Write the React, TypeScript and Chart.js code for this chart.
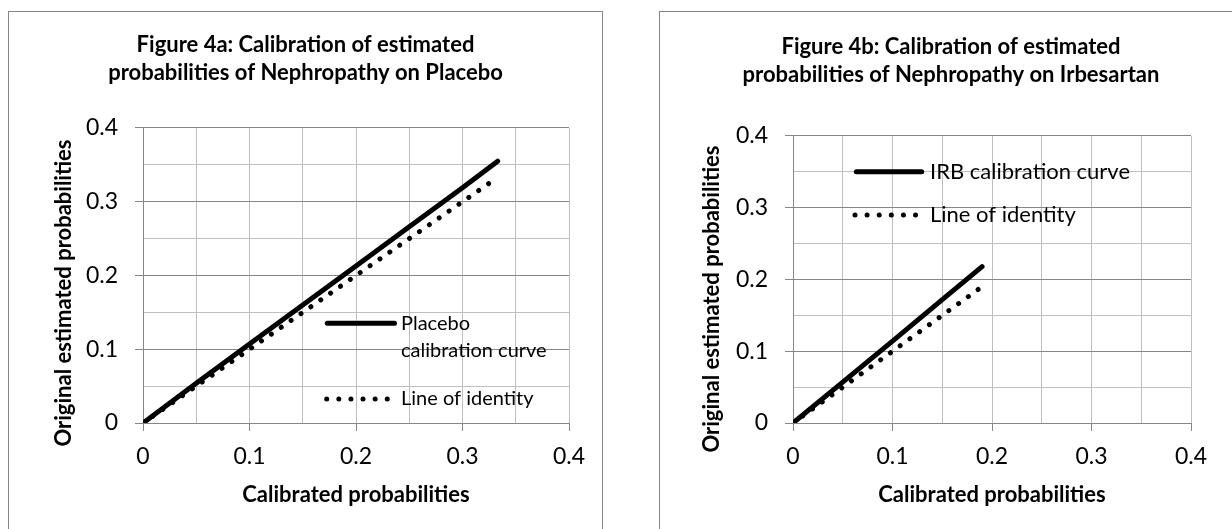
import React, { useEffect, useRef } from "react";
import { Chart, registerables } from "chart.js";

Chart.register(...registerables);

const FONT = "Lato, 'DejaVu Sans', sans-serif";

// ---------- Figure 4a (Placebo) ----------
const placeboX = [0, 0.05, 0.1, 0.15, 0.2, 0.25, 0.3, 0.333];
const placeboY = [0, 0.054, 0.107, 0.16, 0.213, 0.266, 0.319, 0.355];
const identityAX = [0, 0.05, 0.1, 0.15, 0.2, 0.25, 0.3, 0.329];
const identityAY = [0, 0.05, 0.1, 0.15, 0.2, 0.25, 0.3, 0.329];

// ---------- Figure 4b (Irbesartan) ----------
const irbX = [0, 0.05, 0.1, 0.15, 0.19];
const irbY = [0, 0.057, 0.114, 0.172, 0.218];
const identityBX = [0, 0.05, 0.1, 0.15, 0.187];
const identityBY = [0, 0.05, 0.1, 0.15, 0.187];

// ---------- axes / text ----------
const axisTickValues = [0, 0.1, 0.2, 0.3, 0.4];
const axisTickLabels = ["0", "0.1", "0.2", "0.3", "0.4"];
const titleA = ["Figure 4a: Calibration of estimated", "probabilities of Nephropathy on Placebo"];
const titleB = ["Figure 4b: Calibration of estimated", "probabilities of Nephropathy on Irbesartan"];
const xTitle = "Calibrated probabilities";
const yTitle = "Original estimated probabilities";
const legendA = [["Placebo", "calibration curve"], ["Line of identity"]];
const legendB = [["IRB calibration curve"], ["Line of identity"]];

const MAJOR = "#868686";
const MINOR = "#bfbfbf";

function isMajor(v: number) {
  return Math.abs(v * 10 - Math.round(v * 10)) < 1e-6;
}
function tickLabel(v: number) {
  const i = axisTickValues.findIndex((t) => Math.abs(t - v) < 1e-6);
  return i >= 0 ? axisTickLabels[i] : "";
}
function pts(xs: number[], ys: number[]) {
  return xs.map((x, i) => ({ x, y: ys[i] }));
}

type PanelCfg = {
  canvasW: number;
  canvasH: number;
  pad: number;
  yScaleW: number;
  xScaleH: number;
  titlePadTop: number;
  titlePadBottom: number;
  yTitleX: number;
  yTitleY: number;
  legendSize: number;
  legendTextX: number;
  legendGap: number;
  legendItems: { x0: number; x1: number; y: number; dotted: boolean }[];
};

function yTitlePlugin(cfg: PanelCfg) {
  return {
    id: "yTitleCustom",
    afterDraw(chart: any) {
      const ctx = chart.ctx;
      ctx.save();
      ctx.translate(cfg.yTitleX, cfg.yTitleY);
      ctx.rotate(-Math.PI / 2);
      ctx.font = `bold 22px ${FONT}`;
      ctx.fillStyle = "#000";
      ctx.textAlign = "center";
      ctx.textBaseline = "middle";
      ctx.fillText(yTitle, 0, 0);
      ctx.restore();
    },
  };
}

function legendPlugin(cfg: PanelCfg, texts: string[][]) {
  return {
    id: "calLegend",
    afterDraw(chart: any) {
      const ctx = chart.ctx;
      ctx.save();
      ctx.strokeStyle = "#000";
      ctx.fillStyle = "#000";
      cfg.legendItems.forEach((it, idx) => {
        ctx.beginPath();
        ctx.lineCap = "round";
        ctx.lineWidth = it.dotted ? 5 : 5;
        ctx.setLineDash(it.dotted ? [0.01, 12.1] : []);
        ctx.moveTo(it.x0, it.y);
        ctx.lineTo(it.x1, it.y);
        ctx.stroke();
        ctx.setLineDash([]);
        ctx.font = `${cfg.legendSize}px ${FONT}`;
        ctx.textAlign = "left";
        ctx.textBaseline = "middle";
        texts[idx].forEach((t, k) => ctx.fillText(t, cfg.legendTextX, it.y + k * cfg.legendGap));
      });
      ctx.restore();
    },
  };
}

function buildConfig(
  cfg: PanelCfg,
  title: string[],
  curve: { x: number; y: number }[],
  identity: { x: number; y: number }[],
  legendTexts: string[][]
): any {
  return {
    type: "line",
    data: {
      datasets: [
        {
          label: legendTexts[0].join(" "),
          data: curve,
          borderColor: "#000",
          borderWidth: 5,
          borderCapStyle: "round",
          borderJoinStyle: "round",
          pointRadius: 0,
          tension: 0,
        },
        {
          label: legendTexts[1].join(" "),
          data: identity,
          borderColor: "#000",
          borderWidth: 5,
          borderCapStyle: "round",
          borderDash: [0.01, 12],
          pointRadius: 0,
          tension: 0,
        },
      ],
    },
    options: {
      responsive: false,
      animation: false,
      events: [],
      layout: { padding: { left: cfg.pad, right: cfg.pad, top: 0, bottom: 0 } },
      plugins: {
        legend: { display: false },
        tooltip: { enabled: false },
        title: {
          display: true,
          text: title,
          color: "#000",
          font: { family: FONT, size: 22, weight: "bold", lineHeight: 1.29 },
          padding: { top: cfg.titlePadTop, bottom: cfg.titlePadBottom },
        },
      },
      scales: {
        x: {
          type: "linear",
          min: 0,
          max: 0.4,
          afterFit: (s: any) => {
            s.height = cfg.xScaleH;
          },
          ticks: {
            stepSize: 0.05,
            autoSkip: false,
            maxRotation: 0,
            padding: 12,
            color: "#000",
            font: { family: FONT, size: 23 },
            callback: (v: any) => tickLabel(Number(v)),
          },
          grid: {
            color: MINOR,
            lineWidth: 1,
            tickLength: 8,
            tickColor: (c: any) => (c.tick && isMajor(c.tick.value) ? MAJOR : "rgba(0,0,0,0)"),
          },
          border: { color: MAJOR, width: 1 },
          title: {
            display: true,
            text: xTitle,
            color: "#000",
            font: { family: FONT, size: 22, weight: "bold" },
            padding: { top: 0, bottom: 21 },
          },
        },
        y: {
          type: "linear",
          min: 0,
          max: 0.4,
          afterFit: (s: any) => {
            s.width = cfg.yScaleW;
          },
          ticks: {
            stepSize: 0.05,
            autoSkip: false,
            padding: 17,
            color: "#000",
            font: { family: FONT, size: 23 },
            callback: (v: any) => tickLabel(Number(v)),
          },
          grid: {
            color: (c: any) => (c.tick && !isMajor(c.tick.value) ? MINOR : MAJOR),
            lineWidth: 1,
            tickLength: 8,
            tickColor: (c: any) => (c.tick && isMajor(c.tick.value) ? MAJOR : "rgba(0,0,0,0)"),
          },
          border: { color: MAJOR, width: 1 },
          title: { display: false },
        },
      },
    },
    plugins: [yTitlePlugin(cfg), legendPlugin(cfg, legendTexts)],
  };
}

const cfgA: PanelCfg = {
  canvasW: 593,
  canvasH: 517,
  pad: 33,
  yScaleW: 101,
  xScaleH: 106,
  titlePadTop: 18.6,
  titlePadBottom: 40.6,
  yTitleX: 54.5,
  yTitleY: 281,
  legendSize: 20,
  legendTextX: 392,
  legendGap: 27,
  legendItems: [
    { x0: 318.3, x1: 385.5, y: 311.3, dotted: false },
    { x0: 317.7, x1: 378.4, y: 387, dotted: true },
  ],
};

const cfgB: PanelCfg = {
  canvasW: 582,
  canvasH: 517,
  pad: 51,
  yScaleW: 82,
  xScaleH: 106,
  titlePadTop: 20.3,
  titlePadBottom: 46.9,
  yTitleX: 52,
  yTitleY: 287,
  legendSize: 22,
  legendTextX: 270,
  legendGap: 27,
  legendItems: [
    { x0: 196.3, x1: 261.7, y: 159.7, dotted: false },
    { x0: 195, x1: 255.7, y: 203, dotted: true },
  ],
};

function Panel(props: {
  left: number;
  width: number;
  cfg: PanelCfg;
  title: string[];
  curve: { x: number; y: number }[];
  identity: { x: number; y: number }[];
  legend: string[][];
}) {
  const ref = useRef<HTMLCanvasElement>(null);
  useEffect(() => {
    if (!ref.current) return;
    const chart = new Chart(
      ref.current,
      buildConfig(props.cfg, props.title, props.curve, props.identity, props.legend)
    );
    return () => chart.destroy();
  }, []);
  return (
    <div
      style={{
        position: "absolute",
        left: props.left,
        top: 11,
        width: props.width,
        height: 560,
        border: `1px solid ${MAJOR}`,
        boxSizing: "border-box",
        background: "#fff",
      }}
    >
      <canvas
        ref={ref}
        width={props.cfg.canvasW}
        height={props.cfg.canvasH}
        style={{ position: "absolute", left: 0, top: 0, width: props.cfg.canvasW, height: props.cfg.canvasH }}
      />
    </div>
  );
}

export default function App() {
  return (
    <div
      style={{
        position: "absolute",
        left: 0,
        top: 0,
        width: 1232,
        height: 529,
        overflow: "hidden",
        background: "#fff",
      }}
    >
      <Panel
        left={8}
        width={595}
        cfg={cfgA}
        title={titleA}
        curve={pts(placeboX, placeboY)}
        identity={pts(identityAX, identityAY)}
        legend={legendA}
      />
      <Panel
        left={659}
        width={584}
        cfg={cfgB}
        title={titleB}
        curve={pts(irbX, irbY)}
        identity={pts(identityBX, identityBY)}
        legend={legendB}
      />
    </div>
  );
}
